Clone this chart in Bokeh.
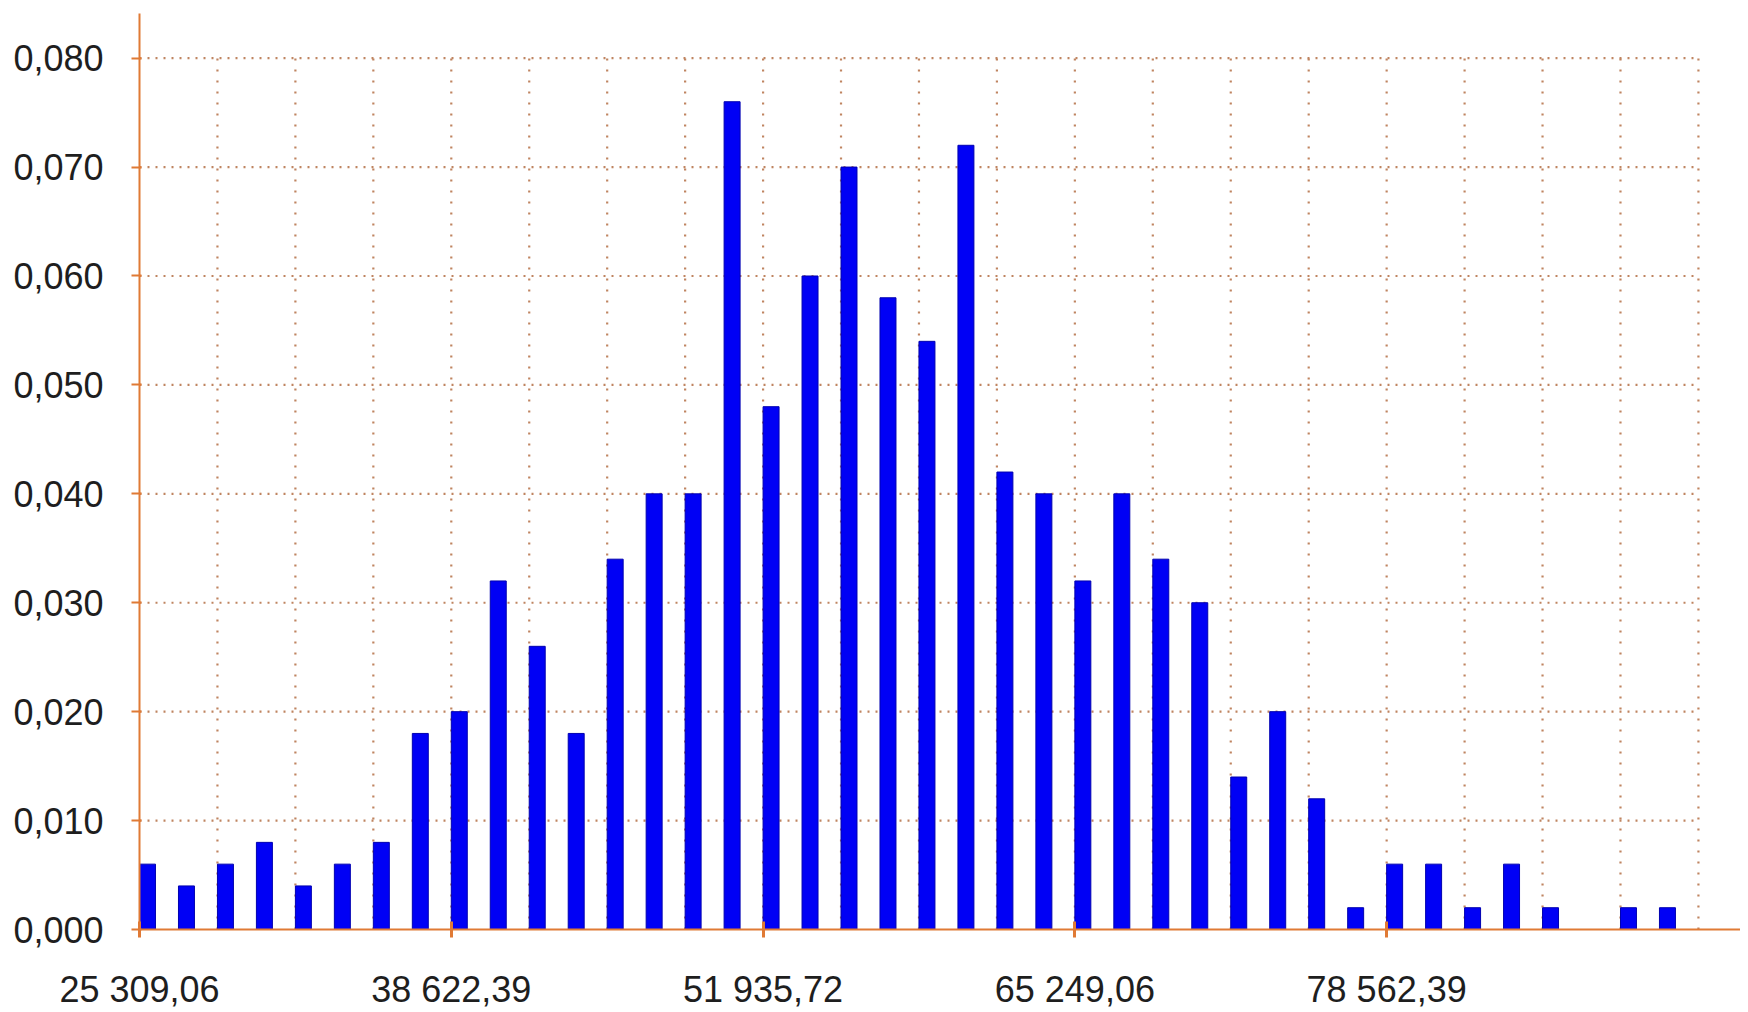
from bokeh.plotting import figure
from bokeh.models import Range1d, FixedTicker, ColumnDataSource
from bokeh.embed import file_html
from bokeh.resources import INLINE

# ---- data ----
bin_start = 25309.06
bin_width = 1664.1666
frequencies = [0.006, 0.004, 0.006, 0.008, 0.004, 0.006, 0.008, 0.018, 0.020, 0.032,
               0.026, 0.018, 0.034, 0.040, 0.040, 0.076, 0.048, 0.060, 0.070, 0.058,
               0.054, 0.072, 0.042, 0.040, 0.032, 0.040, 0.034, 0.030, 0.014, 0.020,
               0.012, 0.002, 0.006, 0.006, 0.002, 0.006, 0.002, 0.000, 0.002, 0.002]
x_ticks = [25309.06, 38622.39, 51935.72, 65249.06, 78562.39]
x_tick_labels = ["25 309,06", "38 622,39", "51 935,72", "65 249,06", "78 562,39"]
y_ticks = [0.0, 0.01, 0.02, 0.03, 0.04, 0.05, 0.06, 0.07, 0.08]
y_tick_labels = ["0,000", "0,010", "0,020", "0,030", "0,040", "0,050", "0,060", "0,070", "0,080"]

# ---- derived ----
n = len(frequencies)
bar_frac = 0.41
lefts = [bin_start + i * bin_width for i in range(n)]
centers = [l + bar_frac * bin_width / 2 for l in lefts]
src = ColumnDataSource(dict(x=centers, top=frequencies))

grid_step = (x_ticks[1] - x_ticks[0]) / 4
grid_end = bin_start + n * bin_width
vx = [bin_start + k * grid_step for k in range(1, int(round((grid_end - bin_start) / grid_step)) + 1)]
hy = [t for t in y_ticks if t > 0]

axis_color = "#E07A35"
grid_color = "#BF8460"
font = "Liberation Sans"

p = figure(width=1740, height=1012, output_backend="svg", toolbar_location=None,
           x_range=Range1d(bin_start, 93672), y_range=Range1d(0, 0.0841),
           min_border_left=139, min_border_right=0, min_border_top=13, min_border_bottom=82)
p.outline_line_color = None
p.background_fill_color = "white"
p.border_fill_color = "white"
p.xgrid.visible = False
p.ygrid.visible = False

# dotted grid (limited extent like the original)
p.segment(x0=vx, x1=vx, y0=[0] * len(vx), y1=[max(y_ticks)] * len(vx),
          line_color=grid_color, line_width=2.2, line_dash="2 9")
p.segment(x0=[bin_start] * len(hy), x1=[grid_end] * len(hy), y0=hy, y1=hy,
          line_color=grid_color, line_width=2.2, line_dash="2 6")

p.vbar(x="x", top="top", width=bar_frac * bin_width, bottom=0, source=src,
       fill_color="#0000F5", line_color="#0000B0", line_width=1)

# axes
for ax in (p.xaxis[0], p.yaxis[0]):
    ax.axis_line_color = axis_color
    ax.axis_line_width = 2
    ax.major_tick_line_color = axis_color
    ax.major_tick_line_width = 3
    ax.minor_tick_line_color = None
    ax.major_label_text_font = font
    ax.major_label_text_font_size = "36px"
    ax.major_label_text_color = "#1E1E1E"

p.xaxis.ticker = FixedTicker(ticks=x_ticks)
p.xaxis.major_label_overrides = {t: l for t, l in zip(x_ticks, x_tick_labels)}
p.xaxis.major_tick_in = 8
p.xaxis.major_tick_out = 8
p.xaxis.major_label_standoff = 31

p.yaxis.ticker = FixedTicker(ticks=y_ticks)
p.yaxis.major_label_overrides = {t: l for t, l in zip(y_ticks, y_tick_labels)}
p.yaxis.major_tick_in = 2
p.yaxis.major_tick_out = 8
p.yaxis.major_tick_line_width = 2
p.yaxis.major_label_standoff = 28

open("out.html", "w").write(file_html(p, INLINE))
